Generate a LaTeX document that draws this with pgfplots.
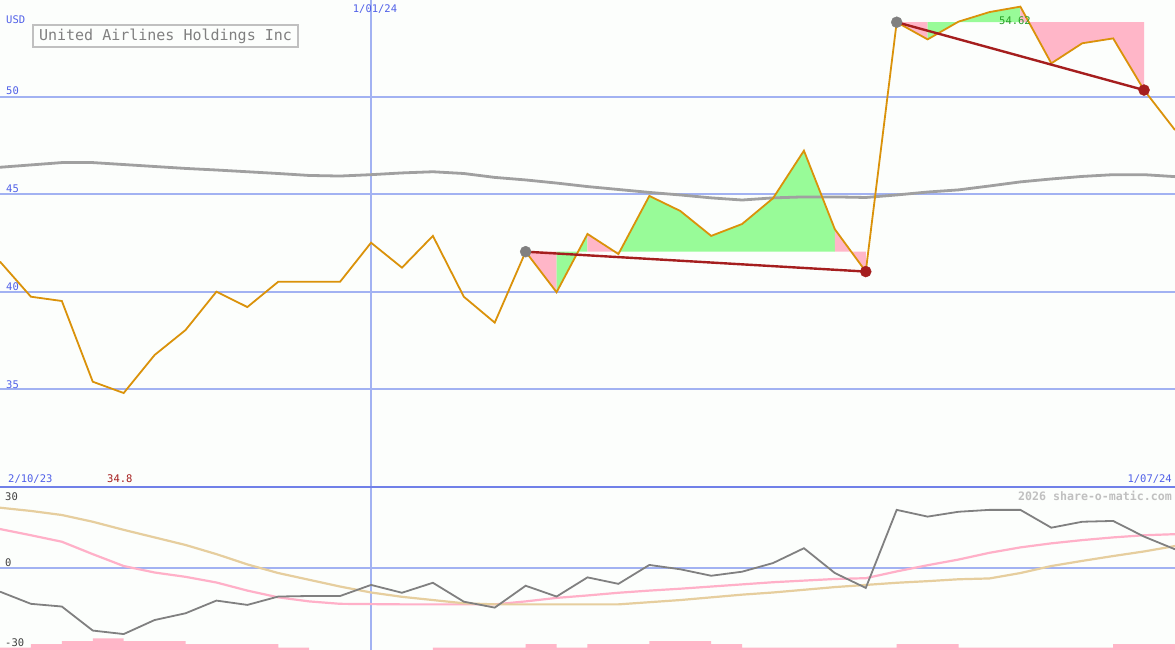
\documentclass[border=0pt]{standalone}
\usepackage{fontspec}
\setmonofont{DejaVu Sans Mono}
\usepackage{pgfplots}
\usepgfplotslibrary{fillbetween}
\usepackage{pgfplotstable}
\pgfplotsset{compat=1.18}

\definecolor{bg}{RGB}{252,254,252}
\definecolor{gridblue}{RGB}{162,178,242}
\definecolor{sepblue}{RGB}{112,128,232}
\definecolor{txtblue}{RGB}{80,96,232}
\definecolor{priceor}{RGB}{218,146,10}
\definecolor{magray}{RGB}{160,160,160}
\definecolor{trendred}{RGB}{165,30,30}
\definecolor{fillgreen}{RGB}{152,251,152}
\definecolor{fillpink}{RGB}{255,182,200}
\definecolor{oscgray}{RGB}{128,128,128}
\definecolor{tanl}{RGB}{230,206,158}
\definecolor{pinkl}{RGB}{255,176,200}
\definecolor{boxgray}{RGB}{192,192,192}
\definecolor{titlegray}{RGB}{128,128,128}
\definecolor{labgreen}{RGB}{40,160,40}

% weekly series, x = week index
\pgfplotstableread{
i  price  ma     osc    pk     tn
0  41.54  46.38  -8.9   14.3   22.2
1  39.74  46.50  -13.4  12.0   21.0
2  39.52  46.62  -14.4  9.6    19.5
3  35.38  46.62  -23.3  5.0    17.0
4  34.80  46.52  -24.6  0.6    14.0
5  36.75  46.42  -19.4  -1.8   11.2
6  38.03  46.32  -16.9  -3.4   8.4
7  40.00  46.24  -12.2  -5.5   5.0
8  39.21  46.15  -13.8  -8.5   1.2
9  40.51  46.06  -10.7  -11.0  -2.0
10 40.51  45.96  -10.5  -12.5  -4.5
11 40.51  45.93  -10.5  -13.4  -7.0
12 42.51  46.00  -6.4   -13.5  -9.2
13 41.23  46.09  -9.3   -13.6  -10.8
14 42.86  46.15  -5.6   -13.6  -12.0
15 39.74  46.06  -12.6  -13.6  -13.2
16 38.41  45.86  -14.8  -13.6  -13.6
17 42.05  45.73  -6.7   -12.5  -13.6
18 39.97  45.57  -10.7  -11.2  -13.6
19 42.96  45.39  -3.6   -10.3  -13.6
20 41.93  45.24  -6.0   -9.3   -13.6
21 44.91  45.09  1.0    -8.5   -12.8
22 44.14  44.96  -0.6   -7.8   -12.0
23 42.86  44.81  -3.0   -7.0   -11.0
24 43.47  44.70  -1.5   -6.2   -10.0
25 44.79  44.81  1.7    -5.4   -9.2
26 47.23  44.86  7.2    -4.8   -8.2
27 43.20  44.86  -2.0   -4.2   -7.2
28 41.03  44.83  -7.5   -3.9   -6.4
29 53.82  44.96  21.4   -1.4   -5.6
30 52.94  45.11  18.9   0.9    -5.0
31 53.85  45.22  20.7   3.0    -4.3
32 54.34  45.42  21.4   5.5    -4.0
33 54.62  45.63  21.4   7.5    -2.0
34 51.71  45.78  14.8   9.0    0.6
35 52.74  45.91  17.0   10.2   2.5
36 52.99  46.00  17.3   11.2   4.3
37 50.34  46.00  11.5   12.0   6.0
38 48.29  45.90  6.8    12.4   8.0
}\weekly

\begin{document}
\begin{tikzpicture}

% ---- price panel ----
\begin{axis}[
    name=main, at={(0,0)}, anchor=south west,
    scale only axis, width=1175pt, height=487pt,
    xmin=0, xmax=38, ymin=29.98, ymax=54.96,
    set layers,
    axis background/.style={fill=bg},
    axis line style={draw=none}, tick style={draw=none},
    xtick=\empty, ytick={35,40,45,50}, yticklabels={},
    ymajorgrids, major grid style={gridblue, line width=2.2pt},
    extra x ticks={12}, extra x tick labels={},
    extra x tick style={xmajorgrids=true, ymajorgrids=false,
        major grid style={gridblue, line width=1.3pt}},
]
\addplot[draw=none, name path=price, forget plot] table[x=i, y=price] {\weekly};
\addplot[draw=none, name path=refA] coordinates {(17,42.05) (28,42.05)};
\addplot[draw=none, name path=refB] coordinates {(29,53.82) (37,53.82)};

\addplot[fillpink]  fill between[of=price and refA, soft clip={domain=17:18}];
\addplot[fillgreen] fill between[of=price and refA, soft clip={domain=18:19}];
\addplot[fillpink]  fill between[of=price and refA, soft clip={domain=19:20}];
\addplot[fillgreen] fill between[of=price and refA, soft clip={domain=20:27}];
\addplot[fillpink]  fill between[of=price and refA, soft clip={domain=27:28}];
\addplot[fillpink]  fill between[of=price and refB, soft clip={domain=29:30}];
\addplot[fillgreen] fill between[of=price and refB, soft clip={domain=30:33}];
\addplot[fillpink]  fill between[of=price and refB, soft clip={domain=33:37}];

\addplot[magray, line width=2.8pt] table[x=i, y=ma] {\weekly};
\addplot[only marks, mark=*, mark size=5.5pt, oscgray] coordinates {(17,42.05) (29,53.82)};
\addplot[priceor, line width=1.8pt] table[x=i, y=price] {\weekly};
\addplot[trendred, line width=2.4pt] coordinates {(17,42.05) (28,41.03)};
\addplot[trendred, line width=2.4pt] coordinates {(29,53.82) (37,50.34)};
\addplot[only marks, mark=*, mark size=5.5pt, trendred] coordinates {(28,41.03) (37,50.34)};
\end{axis}

% ---- oscillator panel ----
\begin{axis}[
    name=lower, at={(0,0)}, anchor=north west,
    scale only axis, width=1175pt, height=163pt,
    xmin=0, xmax=38, ymin=-30.5, ymax=29.87,
    set layers,
    axis background/.style={fill=bg},
    axis line style={draw=none}, tick style={draw=none},
    xtick=\empty, ytick={0}, yticklabels={},
    ymajorgrids, major grid style={gridblue, line width=2.2pt},
    extra x ticks={12}, extra x tick labels={},
    extra x tick style={xmajorgrids=true, ymajorgrids=false,
        major grid style={gridblue, line width=1.3pt}},
]
\addplot[const plot, fill=fillpink, draw=none] coordinates {
    (0,-31) (0,-29.6) (1,-28.3) (2,-27.2) (3,-26.2) (4,-27.2) (5,-27.2)
    (6,-28.3) (7,-28.3) (8,-28.3) (9,-29.6) (10,-31) (11,-31) (12,-31)
    (13,-31) (14,-29.6) (15,-29.6) (16,-29.6) (17,-28.3) (18,-29.6)
    (19,-28.3) (20,-28.3) (21,-27.2) (22,-27.2) (23,-28.3) (24,-29.6)
    (25,-29.6) (26,-29.6) (27,-29.6) (28,-29.6) (29,-28.3) (30,-28.3)
    (31,-29.6) (32,-29.6) (33,-29.6) (34,-29.6) (35,-29.6) (36,-28.3)
    (37,-28.3) (38,-28.3) (38,-31)} -- cycle;
\addplot[pinkl, line width=2.2pt] table[x=i, y=pk] {\weekly};
\addplot[tanl, line width=2.2pt] table[x=i, y=tn] {\weekly};
\addplot[oscgray, line width=1.8pt] table[x=i, y=osc] {\weekly};
\end{axis}

\draw[sepblue, line width=2.5pt] (0,0) -- (1175pt,0);

% ---- texts ----
\begin{scope}[every node/.style={font=\ttfamily\fontsize{10.5}{10.5}\selectfont, inner sep=0pt}]
\node[anchor=west, text=txtblue] at (6pt,467pt) {USD};
\node[text=txtblue] at (375pt,478pt) {1/01/24};
\node[anchor=west, text=txtblue] at (6pt,396pt) {50};
\node[anchor=west, text=txtblue] at (6pt,298pt) {45};
\node[anchor=west, text=txtblue] at (6pt,200pt) {40};
\node[anchor=west, text=txtblue] at (6pt,102pt) {35};
\node[anchor=west, text=txtblue] at (8pt,8pt) {2/10/23};
\node[anchor=west, text=trendred] at (107pt,8pt) {34.8};
\node[anchor=east, text=txtblue] at (1172pt,8pt) {1/07/24};
\node[anchor=west, text=labgreen] at (999pt,466pt) {54.62};
\node[anchor=west, text=darkgray] at (5pt,-10pt) {30};
\node[anchor=west, text=darkgray] at (5pt,-76pt) {0};
\node[anchor=west, text=darkgray] at (5pt,-156pt) {-30};
\node[anchor=east, text=boxgray, font=\ttfamily\bfseries\fontsize{11.6}{12}\selectfont] at (1172pt,-9pt) {2026 share-o-matic.com};
\node[draw=boxgray, line width=2pt, fill=bg, minimum width=265pt, minimum height=22pt,
      text=titlegray, font=\ttfamily\fontsize{15}{15}\selectfont] at (165.5pt,451pt) {United Airlines Holdings Inc};
\end{scope}

\pgfresetboundingbox
\path[use as bounding box] (0,-163pt) rectangle (1175pt,487pt);
\end{tikzpicture}
\end{document}
